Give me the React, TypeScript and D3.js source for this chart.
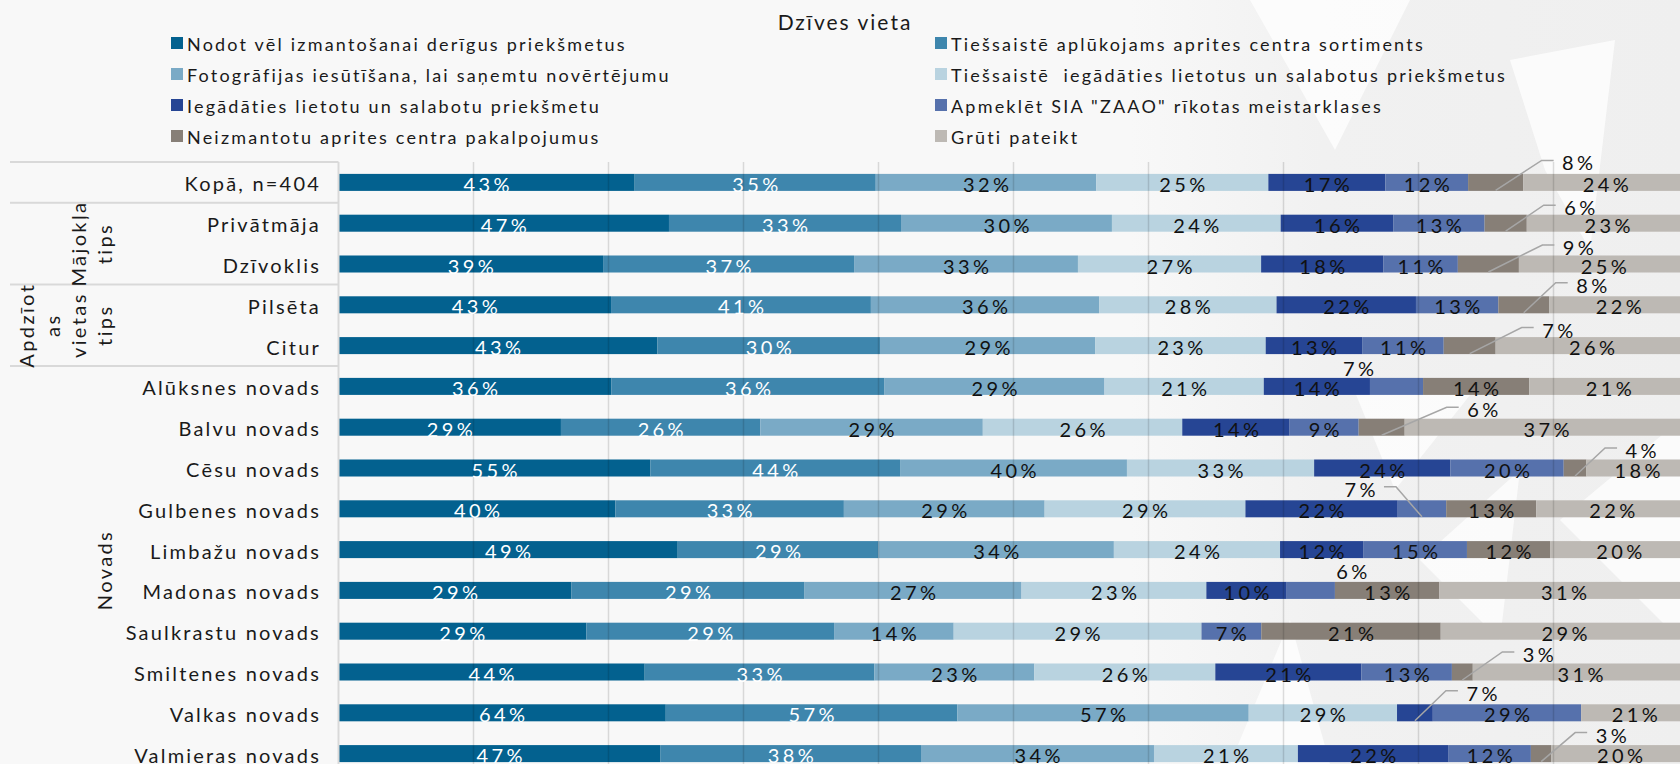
import React, { useEffect, useRef } from 'react';
import * as d3 from 'd3';

const seriesNames = [
  'Nodot vēl izmantošanai derīgus priekšmetus',
  'Tiešsaistē aplūkojams aprites centra sortiments',
  'Fotogrāfijas iesūtīšana, lai saņemtu novērtējumu',
  'Tiešsaistē  iegādāties lietotus un salabotus priekšmetus',
  'Iegādāties lietotu un salabotu priekšmetu',
  'Apmeklēt SIA "ZAAO" rīkotas meistarklases',
  'Neizmantotu aprites centra pakalpojumus',
  'Grūti pateikt',
];
const seriesColors = ['#03618f', '#3e86ad', '#7aaac6', '#b9d3e0', '#264594', '#5671ac', '#877f77', '#bdb9b4'];

const rowLabels = [
  'Kopā, n=404', 'Privātmāja', 'Dzīvoklis', 'Pilsēta', 'Citur',
  'Alūksnes novads', 'Balvu novads', 'Cēsu novads', 'Gulbenes novads', 'Limbažu novads',
  'Madonas novads', 'Saulkrastu novads', 'Smiltenes novads', 'Valkas novads', 'Valmieras novads',
];

const nodotVel = [43, 47, 39, 43, 43, 36, 29, 55, 40, 49, 29, 29, 44, 64, 47];
const aplukojams = [35, 33, 37, 41, 30, 36, 26, 44, 33, 29, 29, 29, 33, 57, 38];
const fotografijas = [32, 30, 33, 36, 29, 29, 29, 40, 29, 34, 27, 14, 23, 57, 34];
const tiessaisteIegadaties = [25, 24, 27, 28, 23, 21, 26, 33, 29, 24, 23, 29, 26, 29, 21];
const iegadaties = [17, 16, 18, 22, 13, 14, 14, 24, 22, 12, 10, 0, 21, 7, 22];
const meistarklases = [12, 13, 11, 13, 11, 7, 9, 20, 7, 15, 6, 7, 13, 29, 12];
const neizmantotu = [8, 6, 9, 8, 7, 14, 6, 4, 13, 12, 13, 21, 3, 0, 3];
const gruti = [24, 23, 25, 22, 26, 21, 37, 18, 22, 20, 31, 29, 31, 21, 20];

const seriesValues = [nodotVel, aplukojams, fotografijas, tiessaisteIegadaties, iegadaties, meistarklases, neizmantotu, gruti];

// row groups on the left side (rotated captions)
const groups = [
  { lines: [] as string[], from: 0, to: 0 },
  { lines: ['Mājokļa', 'tips'], from: 1, to: 2 },
  { lines: ['Apdzīot', 'as', 'vietas', 'tips'], from: 3, to: 4 },
  { lines: ['Novads'], from: 5, to: 14 },
];

// small segments labelled outside the bar: offset of label from segment centre
const callouts = [
  { row: 0, s: 6, dx: 82, dy: -21, leader: true },
  { row: 1, s: 6, dx: 74, dy: -17, leader: true },
  { row: 2, s: 6, dx: 90, dy: -18, leader: true },
  { row: 3, s: 6, dx: 68, dy: -21, leader: true },
  { row: 4, s: 6, dx: 88, dy: -17, leader: true },
  { row: 5, s: 5, dx: -38, dy: -19, leader: false },
  { row: 6, s: 6, dx: 101, dy: -19, leader: true },
  { row: 7, s: 6, dx: 66, dy: -19, leader: true },
  { row: 8, s: 5, dx: -62, dy: -21, leader: true },
  { row: 10, s: 5, dx: 41, dy: -20, leader: false },
  { row: 12, s: 6, dx: 76, dy: -19, leader: true },
  { row: 13, s: 4, dx: 67, dy: -21, leader: true },
  { row: 14, s: 6, dx: 70, dy: -20, leader: true },
];

const FONT = 'Lato, "Open Sans", sans-serif';

const App = () => {
  const svgRef = useRef<SVGSVGElement>(null);

  useEffect(() => {
    const width = 1680;
    const height = 764;
    const svg = d3.select(svgRef.current);
    svg.selectAll('*').remove();
    svg.attr('width', width).attr('height', height);

    const x0 = 338.5;
    const plotW = 1350;
    const top = 162;
    const bottom = 774;

    // background + faint watermark shapes
    const defs = svg.append('defs');
    const grad = defs.append('linearGradient').attr('id', 'bgfade').attr('x1', 0).attr('x2', 1);
    grad.append('stop').attr('offset', 0).attr('stop-color', '#f8f8f8');
    grad.append('stop').attr('offset', 0.35).attr('stop-color', '#f1f1f1');
    grad.append('stop').attr('offset', 1).attr('stop-color', '#efefef');
    svg.append('rect').attr('width', width).attr('height', height).attr('fill', '#f8f8f8');
    svg.append('rect').attr('x', 1130).attr('width', width - 1130).attr('height', height).attr('fill', 'url(#bgfade)');
    const shapes = [
      [[1250, 0], [1410, 0], [1335, 150]],
      [[1510, 60], [1615, 40], [1590, 250], [1545, 170]],
      [[1350, 380], [1470, 395], [1395, 490]],
      [[1420, 560], [1520, 470], [1500, 640]],
      [[1560, 520], [1680, 420], [1680, 640]],
      [[1290, 620], [1330, 764], [1230, 764]],
    ];
    svg.append('g').selectAll('polygon').data(shapes).enter().append('polygon')
      .attr('points', d => d.map(p => p.join(',')).join(' '))
      .attr('fill', '#ffffff').attr('opacity', 0.75);

    const y = d3.scaleBand<number>()
      .domain(d3.range(rowLabels.length))
      .range([top, bottom])
      .paddingInner(0.583)
      .paddingOuter(0.2915);
    const step = y.step();
    const bandTop = (i: number) => top + i * step;

    const rows = rowLabels.map((label, i) => {
      const vals = seriesValues.map(s => s[i]);
      const total = d3.sum(vals);
      const x = d3.scaleLinear().domain([0, total]).range([x0, x0 + plotW]);
      let acc = 0;
      const segs = vals.map((v, s) => {
        const seg = { s, v, x1: x(acc), x2: x(acc + v) };
        acc += v;
        return seg;
      });
      return { label, i, segs };
    });

    // bars
    const barG = svg.append('g');
    rows.forEach(r => {
      barG.selectAll(null)
        .data(r.segs.filter(d => d.v > 0))
        .enter()
        .append('rect')
        .attr('x', d => d.x1)
        .attr('y', y(r.i)!)
        .attr('width', d => d.x2 - d.x1)
        .attr('height', y.bandwidth())
        .attr('fill', d => seriesColors[d.s]);
    });

    // gridlines every 10% (drawn over the bars, semi transparent)
    const gx = d3.scaleLinear().domain([0, 1]).range([x0, x0 + plotW]);
    svg.append('g').selectAll('line').data(d3.range(0.1, 1.0, 0.1)).enter().append('line')
      .attr('x1', d => gx(d)).attr('x2', d => gx(d))
      .attr('y1', top).attr('y2', height)
      .attr('stroke', '#000').attr('stroke-opacity', 0.13).attr('stroke-width', 1.5);

    // axis + group separators
    svg.append('line').attr('x1', x0).attr('x2', x0).attr('y1', top).attr('y2', height)
      .attr('stroke', '#d9d9d9').attr('stroke-width', 2);
    svg.append('g').selectAll('line').data(groups).enter().append('line')
      .attr('x1', 10).attr('x2', x0)
      .attr('y1', d => bandTop(d.from)).attr('y2', d => bandTop(d.from))
      .attr('stroke', '#d9d9d9').attr('stroke-width', 2);

    // row labels
    svg.append('g').selectAll('text').data(rowLabels).enter().append('text')
      .attr('x', 321)
      .attr('y', (d, i) => y(i)! + y.bandwidth() / 2 + 1)
      .attr('text-anchor', 'end')
      .attr('dominant-baseline', 'central')
      .style('font-family', FONT).style('font-size', '20px').style('letter-spacing', '2.2px')
      .style('fill', '#1a1a1a')
      .text(d => d);

    // group captions (rotated)
    groups.forEach(g => {
      const cy = (bandTop(g.from) + bandTop(g.to + 1)) / 2;
      const n = g.lines.length;
      g.lines.forEach((line, k) => {
        const cx = 104 - (n - 1 - k) * 26;
        svg.append('text')
          .attr('transform', `translate(${cx},${cy}) rotate(-90)`)
          .attr('text-anchor', 'middle')
          .attr('dominant-baseline', 'central')
          .style('font-family', FONT).style('font-size', '20px').style('letter-spacing', '2.4px')
          .style('fill', '#1a1a1a')
          .text(line);
      });
    });

    // value labels inside segments
    const isCallout = (row: number, s: number) => callouts.some(c => c.row === row && c.s === s);
    const labG = svg.append('g');
    rows.forEach(r => {
      labG.selectAll(null)
        .data(r.segs.filter(d => d.v > 0 && !isCallout(r.i, d.s)))
        .enter()
        .append('text')
        .attr('x', d => (d.x1 + d.x2) / 2 + 1.7)
        .attr('y', y(r.i)! + y.bandwidth() / 2 + 1.5)
        .attr('text-anchor', 'middle')
        .attr('dominant-baseline', 'central')
        .style('font-family', FONT).style('font-size', '20px').style('letter-spacing', '3.4px')
        .style('fill', d => (d.s < 2 ? '#ffffff' : '#111111'))
        .text(d => `${d.v}%`);
    });

    // callout labels with leader lines
    callouts.forEach(c => {
      const seg = rows[c.row].segs[c.s];
      const cx = (seg.x1 + seg.x2) / 2;
      const cy = y(c.row)! + y.bandwidth() / 2;
      const lx = cx + c.dx;
      const ly = cy + c.dy;
      if (c.leader) {
        const dir = c.dx > 0 ? -1 : 1;
        const pts: [number, number][] = [
          [cx, cy + 8],
          [lx + dir * 36, ly - 1],
          [lx + dir * 24, ly - 1],
        ];
        svg.append('path')
          .attr('d', d3.line()(pts))
          .attr('fill', 'none')
          .attr('stroke', '#a6a6a6')
          .attr('stroke-width', 1.5);
      }
      svg.append('text')
        .attr('x', lx + 1.7)
        .attr('y', ly + 1)
        .attr('text-anchor', 'middle')
        .attr('dominant-baseline', 'central')
        .style('font-family', FONT).style('font-size', '20px').style('letter-spacing', '3.4px')
        .style('fill', '#111111')
        .text(`${seg.v}%`);
    });

    // title
    svg.append('text')
      .attr('x', 845).attr('y', 21)
      .attr('text-anchor', 'middle').attr('dominant-baseline', 'central')
      .style('font-family', FONT).style('font-size', '21px').style('letter-spacing', '2px')
      .style('fill', '#1a1a1a')
      .text('Dzīves vieta');

    // legend, two columns, row-major
    const legX = [171, 935];
    const legY = d3.scalePoint<number>().domain([0, 1, 2, 3]).range([43, 136]);
    const leg = svg.append('g').selectAll('g').data(seriesNames).enter().append('g')
      .attr('transform', (d, i) => `translate(${legX[i % 2]},${legY(Math.floor(i / 2))})`);
    leg.append('rect').attr('x', 0).attr('y', -6).attr('width', 12).attr('height', 12)
      .attr('fill', (d, i) => seriesColors[i]);
    leg.append('text').attr('x', 16).attr('y', 1)
      .attr('dominant-baseline', 'central')
      .style('font-family', FONT).style('font-size', '18px').style('letter-spacing', '2.2px')
      .style('fill', '#1a1a1a')
      .style('white-space', 'pre')
      .text(d => d);
  }, []);

  return (
    <div style={{ position: 'absolute', left: 0, top: 0, width: 1680, height: 764, overflow: 'hidden' }}>
      <svg ref={svgRef} style={{ display: 'block' }}></svg>
    </div>
  );
};

export default App;
